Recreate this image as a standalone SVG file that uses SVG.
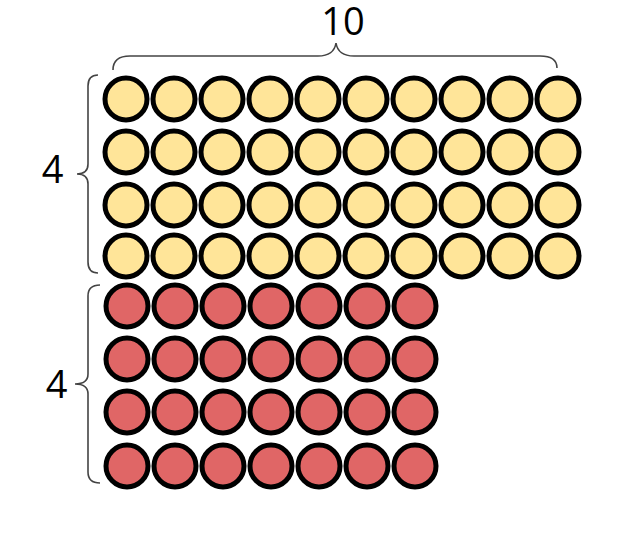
<svg xmlns="http://www.w3.org/2000/svg" width="622" height="537" viewBox="0 0 622 537">
<style>
.y{fill:#FFE599;stroke:#000;stroke-width:5}
.r{fill:#E06666;stroke:#000;stroke-width:5}
.br{fill:none;stroke:#444;stroke-width:1.6}
.t{font-family:"Open Sans","Noto Sans","DejaVu Sans",sans-serif;fill:#000;text-anchor:middle;font-size:38px}
</style>
<g id="braces">
<path class="br" d="M113,70 Q113,56 130,56 L318,56 Q334,56 336,43 Q338,56 354,56 L540,56 Q557,56 557,68"/>
<path class="br" d="M98,75 Q88,75 88,86 L88,164 Q88,174 77,174 Q88,174 88,184 L88,262 Q88,273 98,273"/>
<path class="br" d="M100,285 Q88,285 88,296 L88,374 Q88,384 75,384 Q88,384 88,394 L88,472 Q88,483 100,483"/>
</g>
<g id="labels">
<text class="t" x="343" y="35">10</text>
<text class="t" x="52.5" y="183">4</text>
<text class="t" x="56.5" y="398">4</text>
</g>
<g id="yellow-row1" class="y">
<circle cx="126" cy="99" r="21"/><circle cx="174" cy="99" r="21"/><circle cx="222" cy="99" r="21"/><circle cx="270" cy="99" r="21"/><circle cx="318" cy="99" r="21"/><circle cx="366" cy="99" r="21"/><circle cx="414" cy="99" r="21"/><circle cx="462" cy="99" r="21"/><circle cx="510" cy="99" r="21"/><circle cx="558" cy="99" r="21"/>
</g>
<g id="yellow-row2" class="y">
<circle cx="126" cy="152" r="21"/><circle cx="174" cy="152" r="21"/><circle cx="222" cy="152" r="21"/><circle cx="270" cy="152" r="21"/><circle cx="318" cy="152" r="21"/><circle cx="366" cy="152" r="21"/><circle cx="414" cy="152" r="21"/><circle cx="462" cy="152" r="21"/><circle cx="510" cy="152" r="21"/><circle cx="558" cy="152" r="21"/>
</g>
<g id="yellow-row3" class="y">
<circle cx="126" cy="205" r="21"/><circle cx="174" cy="205" r="21"/><circle cx="222" cy="205" r="21"/><circle cx="270" cy="205" r="21"/><circle cx="318" cy="205" r="21"/><circle cx="366" cy="205" r="21"/><circle cx="414" cy="205" r="21"/><circle cx="462" cy="205" r="21"/><circle cx="510" cy="205" r="21"/><circle cx="558" cy="205" r="21"/>
</g>
<g id="yellow-row4" class="y">
<circle cx="126" cy="256" r="21"/><circle cx="174" cy="256" r="21"/><circle cx="222" cy="256" r="21"/><circle cx="270" cy="256" r="21"/><circle cx="318" cy="256" r="21"/><circle cx="366" cy="256" r="21"/><circle cx="414" cy="256" r="21"/><circle cx="462" cy="256" r="21"/><circle cx="510" cy="256" r="21"/><circle cx="558" cy="256" r="21"/>
</g>
<g id="red-row1" class="r">
<circle cx="127" cy="306" r="21"/><circle cx="175" cy="306" r="21"/><circle cx="223" cy="306" r="21"/><circle cx="271" cy="306" r="21"/><circle cx="319" cy="306" r="21"/><circle cx="367" cy="306" r="21"/><circle cx="415" cy="306" r="21"/>
</g>
<g id="red-row2" class="r">
<circle cx="127" cy="359" r="21"/><circle cx="175" cy="359" r="21"/><circle cx="223" cy="359" r="21"/><circle cx="271" cy="359" r="21"/><circle cx="319" cy="359" r="21"/><circle cx="367" cy="359" r="21"/><circle cx="415" cy="359" r="21"/>
</g>
<g id="red-row3" class="r">
<circle cx="127" cy="412" r="21"/><circle cx="175" cy="412" r="21"/><circle cx="223" cy="412" r="21"/><circle cx="271" cy="412" r="21"/><circle cx="319" cy="412" r="21"/><circle cx="367" cy="412" r="21"/><circle cx="415" cy="412" r="21"/>
</g>
<g id="red-row4" class="r">
<circle cx="127" cy="466" r="21"/><circle cx="175" cy="466" r="21"/><circle cx="223" cy="466" r="21"/><circle cx="271" cy="466" r="21"/><circle cx="319" cy="466" r="21"/><circle cx="367" cy="466" r="21"/><circle cx="415" cy="466" r="21"/>
</g>
</svg>
